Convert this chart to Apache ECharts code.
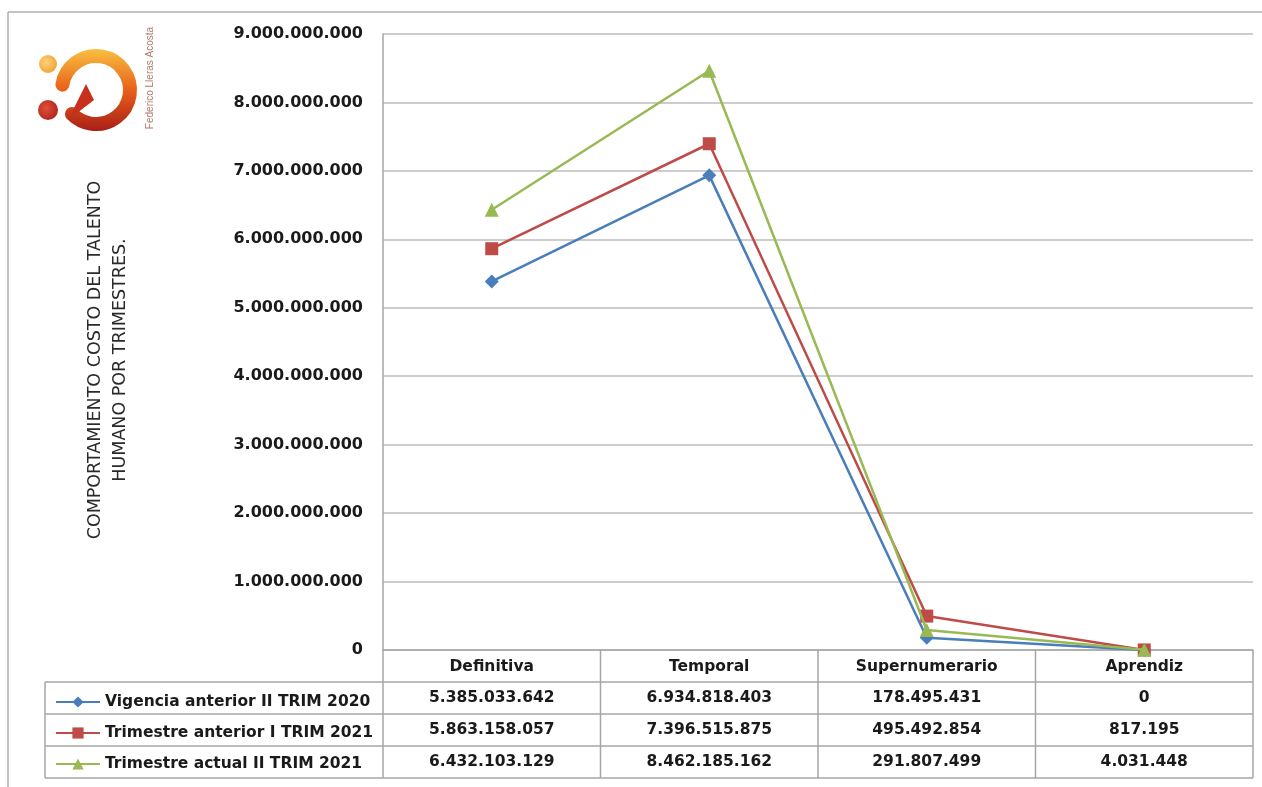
<!DOCTYPE html>
<html>
<head>
<meta charset="utf-8">
<script src="https://cdn.jsdelivr.net/npm/echarts@6/dist/echarts.min.js"></script>
<style>
html,body{margin:0;padding:0;background:#fff;}
#chart{width:1262px;height:787px;}
</style>
</head>
<body>
<div id="chart"></div>
<script>
const categories = ['Definitiva', 'Temporal', 'Supernumerario', 'Aprendiz'];
const seriesNames = ['Vigencia anterior II TRIM 2020', 'Trimestre anterior I TRIM 2021', 'Trimestre actual II TRIM 2021'];
const vigencia2020 = [5385033642, 6934818403, 178495431, 0];
const trim1_2021 = [5863158057, 7396515875, 495492854, 817195];
const trim2_2021 = [6432103129, 8462185162, 291807499, 4031448];
const yTicks = [0, 1000000000, 2000000000, 3000000000, 4000000000, 5000000000, 6000000000, 7000000000, 8000000000, 9000000000];
const yTitle = 'COMPORTAMIENTO COSTO DEL TALENTO\nHUMANO POR TRIMESTRES.';
const logoText = 'Federico Lleras Acosta';

const allSeries = [vigencia2020, trim1_2021, trim2_2021];
const colors = ['#4a7ebb', '#be4b48', '#98b954'];
const symbols = ['diamond', 'rect', 'triangle'];
const symbolSizes = [14, 13, 14];
const FONT = 'DejaVu Sans';

function fmt(v) {
  return String(v).replace(/\B(?=(\d{3})+(?!\d))/g, '.');
}

const chart = echarts.init(document.getElementById('chart'), null, {renderer: 'canvas'});

const option = {
  animation: false,
  backgroundColor: '#fff',
  grid: {left: 383, right: 9, top: 34, bottom: 137, containLabel: false},
  legend: {
    orient: 'vertical',
    left: 50,
    top: 688,
    itemWidth: 44,
    itemHeight: 14,
    itemGap: 13,
    data: seriesNames,
    textStyle: {fontFamily: FONT, fontWeight: 'bold', fontSize: 15.5, color: '#1a1a1a', lineHeight: 18}
  },
  xAxis: {
    type: 'category',
    data: categories,
    boundaryGap: true,
    axisLine: {show: true, lineStyle: {color: '#a6a6a6', width: 1.5}},
    axisTick: {show: false},
    axisLabel: {fontFamily: FONT, fontWeight: 'bold', fontSize: 15.5, color: '#1a1a1a', margin: 8, lineHeight: 18},
    splitLine: {show: false}
  },
  yAxis: {
    type: 'value',
    min: yTicks[0],
    max: yTicks[yTicks.length - 1],
    interval: yTicks[1] - yTicks[0],
    axisLine: {show: true, lineStyle: {color: '#a6a6a6', width: 1.5}},
    axisTick: {show: false},
    axisLabel: {fontFamily: FONT, fontWeight: 'bold', fontSize: 16, color: '#1a1a1a', margin: 20, formatter: v => fmt(v)},
    splitLine: {show: true, lineStyle: {color: '#bdbdbd', width: 1.5}}
  },
  series: seriesNames.map((name, i) => ({
    name: name,
    type: 'line',
    data: allSeries[i],
    symbol: symbols[i],
    symbolSize: symbolSizes[i],
    showAllSymbol: true,
    lineStyle: {color: colors[i], width: 2.5},
    itemStyle: {color: colors[i]},
    z: 3 + i
  }))
};
chart.setOption(option);

// Build data table and decorations using the chart's own scales
const centers = categories.map(c => chart.convertToPixel({xAxisIndex: 0}, c));
const colW = centers[1] - centers[0];
const y0 = chart.convertToPixel({yAxisIndex: 0}, 0);
const leftX = centers[0] - colW / 2;
const rightX = centers[centers.length - 1] + colW / 2;
const rowLines = [y0, y0 + 32, y0 + 64, y0 + 96, y0 + 128];
const tableLeft = 45;
const lineColor = '#a6a6a6';
const g = [];

// horizontal table lines
for (let r = 1; r < rowLines.length; r++) {
  g.push({type: 'line', shape: {x1: tableLeft, y1: rowLines[r], x2: rightX, y2: rowLines[r]}, style: {stroke: lineColor, lineWidth: 1.5}, z: 1});
}
// vertical table lines
g.push({type: 'line', shape: {x1: tableLeft, y1: rowLines[1], x2: tableLeft, y2: rowLines[4]}, style: {stroke: lineColor, lineWidth: 1.5}, z: 1});
for (let c = 0; c <= categories.length; c++) {
  const x = leftX + c * colW;
  g.push({type: 'line', shape: {x1: x, y1: y0, x2: x, y2: rowLines[4]}, style: {stroke: lineColor, lineWidth: 1.5}, z: 1});
}
// cell values
allSeries.forEach((arr, r) => {
  const cy = (rowLines[r + 1] + rowLines[r + 2]) / 2;
  arr.forEach((v, c) => {
    g.push({type: 'text', x: centers[c], y: cy, style: {text: fmt(v), fontFamily: FONT, fontWeight: 'bold', fontSize: 15.5, fill: '#1a1a1a', align: 'center', verticalAlign: 'middle'}, z: 2});
  });
});

// outer frame
g.push({type: 'line', shape: {x1: 8, y1: 12, x2: 1262, y2: 12}, style: {stroke: '#b0b0b0', lineWidth: 1.5}});
g.push({type: 'line', shape: {x1: 8, y1: 12, x2: 8, y2: 787}, style: {stroke: '#b0b0b0', lineWidth: 1.5}});

// y axis title
g.push({type: 'text', x: 108, y: 360, rotation: Math.PI / 2, style: {text: yTitle, fontFamily: FONT, fontSize: 17.5, fill: '#2a2a2a', align: 'center', verticalAlign: 'middle', lineHeight: 25}});

// logo (approximate)
g.push({type: 'circle', shape: {cx: 48, cy: 64, r: 9}, style: {fill: new echarts.graphic.RadialGradient(0.4, 0.4, 0.7, [{offset: 0, color: '#fcd27a'}, {offset: 1, color: '#f0a030'}])}});
g.push({type: 'circle', shape: {cx: 48, cy: 110, r: 10}, style: {fill: new echarts.graphic.RadialGradient(0.4, 0.4, 0.7, [{offset: 0, color: '#e0503a'}, {offset: 1, color: '#b0201a'}])}});
g.push({type: 'arc', shape: {cx: 96, cy: 90, r: 34, startAngle: -Math.PI * 0.95, endAngle: Math.PI * 0.75}, style: {stroke: new echarts.graphic.LinearGradient(0, 0, 0, 1, [{offset: 0, color: '#f8c040'}, {offset: 0.5, color: '#e8601a'}, {offset: 1, color: '#a81e18'}]), lineWidth: 14, fill: null, lineCap: 'round'}});
g.push({type: 'polygon', shape: {points: [[68, 120], [86, 84], [94, 100]]}, style: {fill: '#c8301e'}});
g.push({type: 'text', x: 150, y: 78, rotation: Math.PI / 2, style: {text: logoText, fontFamily: 'Liberation Sans Narrow, Liberation Sans', fontSize: 10, fill: '#b07a6a', align: 'center', verticalAlign: 'middle'}});

chart.setOption({graphic: g});
</script>
</body>
</html>
